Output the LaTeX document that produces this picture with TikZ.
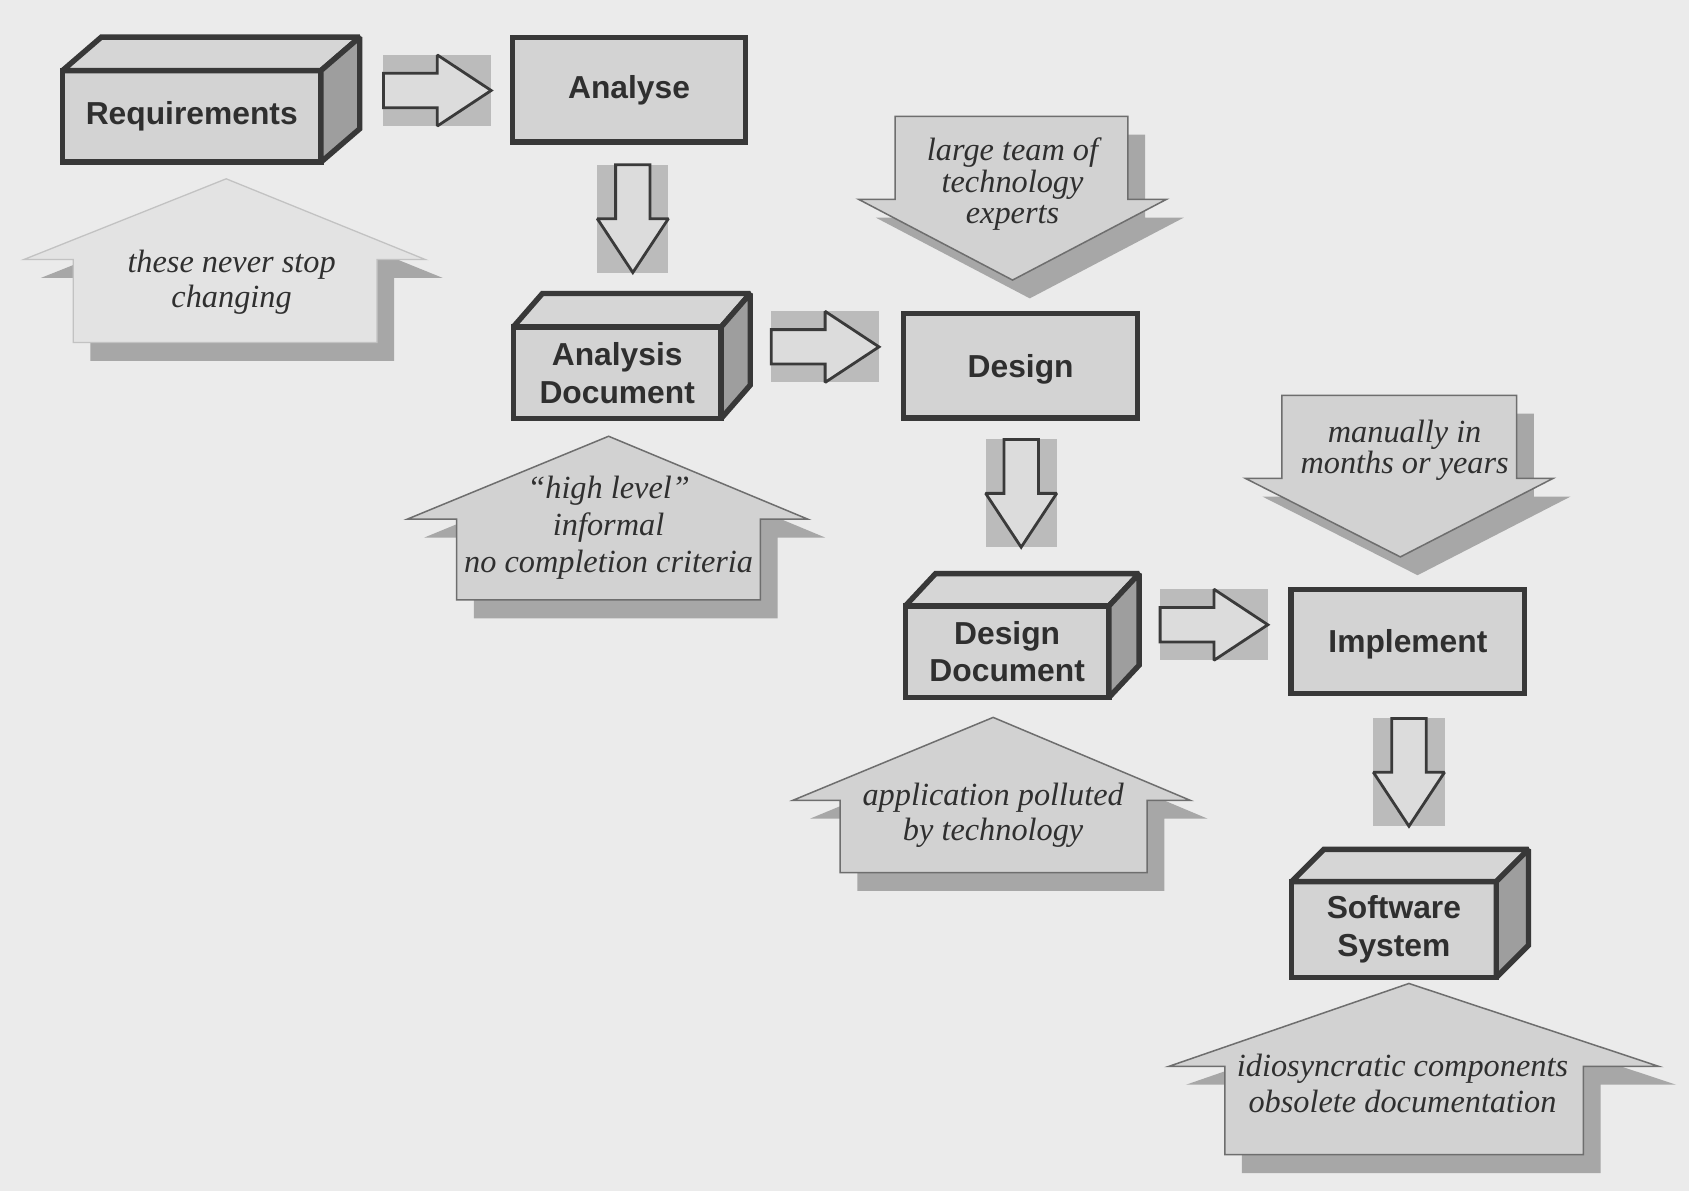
\documentclass[tikz,border=0pt]{standalone}
\usepackage{fontspec}
\setmainfont{Liberation Serif}
\newfontfamily\labfont{Liberation Sans}
\definecolor{bg}{HTML}{EBEBEB}
\definecolor{boxfill}{HTML}{D3D3D3}
\definecolor{boxline}{HTML}{383838}
\definecolor{sidefill}{HTML}{9E9E9E}
\definecolor{topfill}{HTML}{D6D6D6}
\definecolor{arrfill}{HTML}{DCDCDC}
\definecolor{arrbg}{HTML}{BBBBBB}
\definecolor{arrline}{HTML}{3A3A3A}
\definecolor{callfill}{HTML}{D2D2D2}
\definecolor{callline}{HTML}{6E6E6E}
\definecolor{shadowc}{HTML}{A7A7A7}
\definecolor{fadefill}{HTML}{E3E3E3}
\definecolor{fadeline}{HTML}{C2C2C2}
\definecolor{txt}{HTML}{2F2F2F}
% callout arrow outlines
\newcommand{\uppath}[8]{(#1,#2) -- (#5,#3) -- (#7,#3) -- (#7,#8) -- (#6,#8) -- (#6,#3) -- (#4,#3) -- cycle}
\newcommand{\downpath}[8]{(#6,#8) -- (#7,#8) -- (#7,#3) -- (#5,#3) -- (#1,#2) -- (#4,#3) -- (#6,#3) -- cycle}
% small block arrows
\newcommand{\rarr}[2]{%
  \fill[arrbg] (#1,#2-33) rectangle (#1+100,#2+33);
  \filldraw[smallarr] (#1,#2-16) -- (#1+50,#2-16) -- (#1+50,#2-33) -- (#1+100,#2) -- (#1+50,#2+33) -- (#1+50,#2+16) -- (#1,#2+16) -- cycle;}
\newcommand{\darr}[2]{%
  \fill[arrbg] (#1-33,#2) rectangle (#1+33,#2+100);
  \filldraw[smallarr] (#1-16,#2) -- (#1+16,#2) -- (#1+16,#2+50) -- (#1+33,#2+50) -- (#1,#2+100) -- (#1-33,#2+50) -- (#1-16,#2+50) -- cycle;}
\newcommand{\cuboid}[3]{%
  \filldraw[facesty, fill=topfill] (#1.north west) -- ++(#2,-#3) -- ([shift={(#2,-#3)}]#1.north east) -- (#1.north east) -- cycle;
  \filldraw[facesty, fill=sidefill] (#1.north east) -- ++(#2,-#3) -- ([shift={(#2,-#3)}]#1.south east) -- (#1.south east) -- cycle;}
\begin{document}
\begin{tikzpicture}[x=1pt,y=-1pt,
  boxsty/.style={draw=boxline, line width=5pt, fill=boxfill, inner sep=0pt, outer sep=0pt,
    font=\labfont\bfseries\fontsize{29.5}{35}\selectfont, text=txt, align=center},
  facesty/.style={draw=boxline, line width=5pt, line join=miter, miter limit=1.3},
  smallarr/.style={draw=arrline, fill=arrfill, line width=2.6pt, line join=miter, miter limit=2},
  callsty/.style={draw=callline, fill=callfill, line width=1.4pt},
  fadesty/.style={draw=fadeline, fill=fadefill, line width=1.2pt},
  shadsty/.style={fill=shadowc, shift={(16,17)}},
  calltext/.style={font=\itshape\fontsize{30}{#1}\selectfont, align=center, text=txt, inner sep=0pt}
]
\useasboundingbox (0,0) rectangle (1568,1106);
\fill[bg] (0,0) rectangle (1568,1106);

% ---- callout arrows (shadow, then body) ----
% A: these never stop changing (faded)
\fill[shadsty] \uppath{210}{166}{241}{22}{395}{68}{350}{318};
\filldraw[fadesty] \uppath{210}{166}{241}{22}{395}{68}{350}{318};
\node[calltext=33] (cA) at (215,262) {these never stop\\changing};
% B: large team of technology experts
\fill[shadsty] \downpath{940}{260}{185}{797}{1083}{831}{1047}{108};
\filldraw[callsty] \downpath{940}{260}{185}{797}{1083}{831}{1047}{108};
\node[calltext=29] (cB) at (940,171) {large team of\\technology\\experts};
% C: high level
\fill[shadsty] \uppath{565}{405}{482}{378}{750}{424}{706}{557};
\filldraw[callsty] \uppath{565}{405}{482}{378}{750}{424}{706}{557};
\node[calltext=34] (cC) at (565,490) {``high level''\\informal\\no completion criteria};
% D: manually in months or years
\fill[shadsty] \downpath{1300}{517}{444}{1156}{1442}{1190}{1408}{367};
\filldraw[callsty] \downpath{1300}{517}{444}{1156}{1442}{1190}{1408}{367};
\node[calltext=29] (cD) at (1304,418) {manually in\\months or years};
% E: application polluted by technology
\fill[shadsty] \uppath{922}{666}{743}{736}{1105}{780}{1065}{810};
\filldraw[callsty] \uppath{922}{666}{743}{736}{1105}{780}{1065}{810};
\node[calltext=33] (cE) at (922,757) {application polluted\\by technology};
% F: idiosyncratic components
\fill[shadsty] \uppath{1308}{913}{990}{1085}{1540}{1137}{1470}{1072};
\filldraw[callsty] \uppath{1308}{913}{990}{1085}{1540}{1137}{1470}{1072};
\node[calltext=34] (cF) at (1302,1006) {idiosyncratic components\\obsolete documentation};

% ---- process boxes ----
\node[boxsty, minimum width=240, minimum height=85] (req) at (178,108) {Requirements};
\cuboid{req}{36}{31}
\node[boxsty, minimum width=216, minimum height=97] (ana) at (584,83.5) {Analyse};
\node[boxsty, minimum width=193, minimum height=85, text depth=0pt] (anadoc) at (573,346) {Analysis\\Document};
\cuboid{anadoc}{27}{31}
\node[boxsty, minimum width=217, minimum height=97, text depth=0pt] (des) at (947.5,339.5) {Design};
\node[boxsty, minimum width=189, minimum height=85] (desdoc) at (935,605) {Design\\Document};
\cuboid{desdoc}{28}{30}
\node[boxsty, minimum width=217, minimum height=97, text depth=0pt] (impl) at (1307,595.5) {Implement};
\node[boxsty, minimum width=190, minimum height=89] (sw) at (1294,863) {Software\\System};
\cuboid{sw}{30}{30}

% ---- block arrows between steps ----
\rarr{356}{84}
\darr{587.5}{153}
\rarr{716}{322}
\darr{948}{408}
\rarr{1077}{580}
\darr{1308}{667}
\end{tikzpicture}
\end{document}
